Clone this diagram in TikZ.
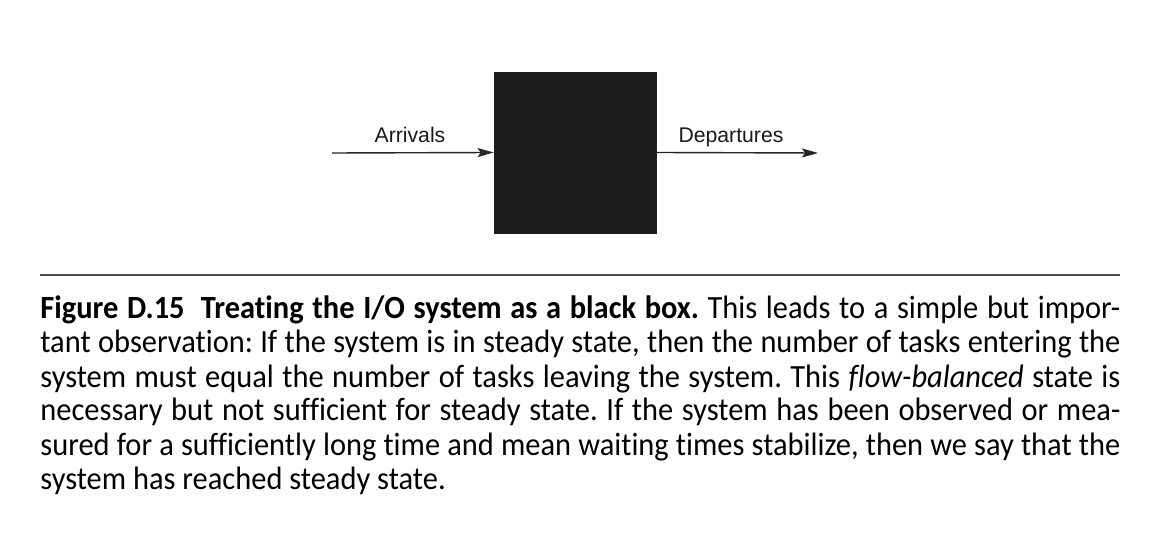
\documentclass[tikz,border=0pt]{standalone}
\usepackage{fontspec}
\setmainfont[FakeStretch=0.94, Ligatures=NoCommon]{Carlito}
\newfontfamily\labelfont{Liberation Sans}
\usetikzlibrary{arrows.meta, positioning}
\frenchspacing

\begin{document}
\begin{tikzpicture}[x=0.5pt, y=-0.5pt,
  blackbox/.style={draw=black!88, fill=black!89, minimum width=81pt, minimum height=80.5pt,
                   inner sep=0pt},
  arr/.style={-{Stealth[length=8pt, width=4.5pt, inset=1.5pt]}, line width=0.7pt, black!85},
  lab/.style={font=\labelfont\fontsize{10.6}{12}\selectfont, text=black!90, inner sep=0pt,
              anchor=base},
  capline/.style={anchor=base west, inner sep=0pt, font=\fontsize{16.2}{17}\selectfont}
]
\useasboundingbox (0,0) rectangle (1156,550);

% --- black box with its flows ---
\node[blackbox] (box) at (575,152.5) {};
\coordinate (arrstart) at (332,153);
\coordinate (depend)   at (818,153);
\draw[arr] (arrstart) -- (box.west);
\draw[arr] (box.east) -- (depend);

\node[lab] (arrivals)   at (410,142.5) {Arrivals};
\node[lab] (departures) at (731,142.5) {Departures};

% --- caption ---
\draw[line width=1pt, black!70] (40,275) -- (1120,275);

\node[capline] (cap1) at (40,319) {\makebox[540pt][s]{{\bfseries Figure D.15\hspace{0.5em}Treating the I/O system as a black box.} This leads to a simple but impor-}};
\node[capline] (cap2) at (40,353) {\makebox[540pt][s]{tant observation: If the system is in steady state, then the number of tasks entering the}};
\node[capline] (cap3) at (40,387) {\makebox[540pt][s]{system must equal the number of tasks leaving the system. This \textit{flow-balanced} state is}};
\node[capline] (cap4) at (40,421) {\makebox[540pt][s]{necessary but not sufficient for steady state. If the system has been observed or mea-}};
\node[capline] (cap5) at (40,455) {\makebox[540pt][s]{sured for a sufficiently long time and mean waiting times stabilize, then we say that the}};
\node[capline] (cap6) at (40,489) {system has reached steady state.};

\end{tikzpicture}
\end{document}
